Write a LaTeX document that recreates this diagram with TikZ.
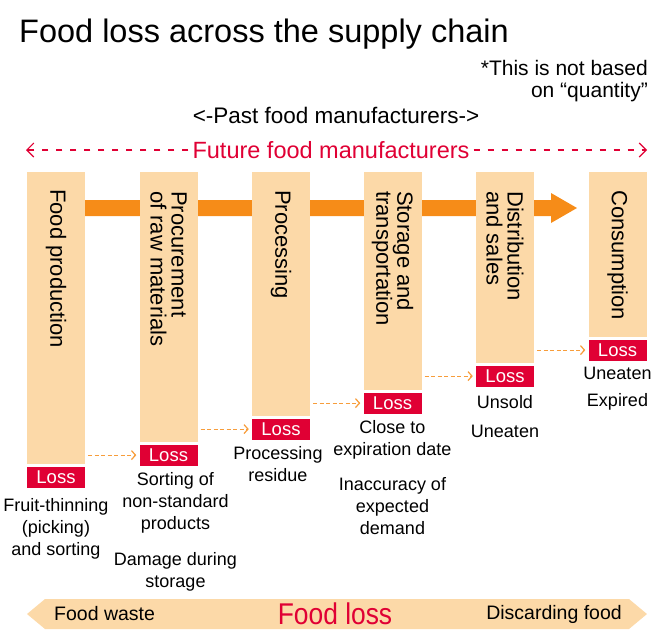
\documentclass[tikz,border=0pt]{standalone}
\usepackage{fontspec}
\setmainfont{Liberation Sans}
\newfontfamily\condfont[FakeStretch=0.88]{Liberation Sans}
\usetikzlibrary{arrows.meta,positioning}

\definecolor{durazno}{RGB}{252,217,168}
\definecolor{naranja}{RGB}{246,140,24}
\definecolor{rojo}{RGB}{224,0,52}

\tikzset{
  etapa/.style={fill=durazno, minimum width=58pt, inner sep=0pt, anchor=north},
  perdida/.style={fill=rojo, text=white, minimum width=58pt, minimum height=21pt,
    inner sep=0pt, anchor=north, font=\fontsize{18.5}{18}\selectfont},
  nombre/.style={rotate=-90, anchor=west, align=left, inner sep=0pt,
    font=\fontsize{22}{21}\selectfont},
  causa/.style={anchor=north, align=center, inner sep=0pt,
    font=\fontsize{18}{22}\selectfont},
  flecha/.style={naranja!85, line width=1.2pt, dash pattern=on 4pt off 2.5pt,
    -{Straight Barb[length=4pt,width=9pt]}, shorten <=3pt, shorten >=3pt},
}

\begin{document}
\begin{tikzpicture}[x=1pt, y=-1pt]
    \useasboundingbox (0,0) rectangle (670,643);

    % Titulo y nota
    \node[anchor=base west, inner sep=0pt, font=\fontsize{32.5}{32}\selectfont] (titulo) at (19,42)
      {Food loss across the supply chain};
    \node[anchor=north east, align=right, inner sep=0pt, font=\fontsize{21}{22}\selectfont] (nota) at (648,60)
      {*This is not based\\on “quantity”};

    % Fabricantes pasados y futuros
    \node[font=\fontsize{22.5}{24}\selectfont] (pasado) at (336,115) {<-Past food manufacturers->};
    \node[text=rojo, inner sep=4pt, font=\fontsize{23.5}{24}\selectfont] (futuro) at (331,150) {Future food manufacturers};
    \coordinate (fizq) at (26,150);
    \coordinate (fder) at (647,150);
    \draw[rojo, line width=1.1pt, dash pattern=on 6pt off 8pt, -{Straight Barb[length=7pt,width=14pt]}] (futuro.west) -- (fizq);
    \draw[rojo, line width=1.1pt, dash pattern=on 6pt off 8pt, -{Straight Barb[length=7pt,width=14pt]}] (futuro.east) -- (fder);

    % Flecha naranja de la cadena
    \fill[naranja] (85,200) -- (551,200) -- (551,193) -- (577,208) -- (551,223) -- (551,216) -- (85,216) -- cycle;

    % Etapas
    \node[etapa, minimum height=292pt] (e1) at (56,172) {};
    \node[etapa, minimum height=270pt] (e2) at (168.5,172) {};
    \node[etapa, minimum height=244pt] (e3) at (281,172) {};
    \node[etapa, minimum height=218pt] (e4) at (392.5,172) {};
    \node[etapa, minimum height=191pt] (e5) at (505,172) {};
    \node[etapa, minimum height=165pt] (e6) at (617.5,172) {};

    \node[nombre] at ([yshift=-17pt]e1.north) {Food production};
    \node[nombre] at ([yshift=-19pt]e2.north) {Procurement\\of raw materials};
    \node[nombre] at ([yshift=-18pt]e3.north) {Processing};
    \node[nombre] at ([yshift=-19pt]e4.north) {Storage and\\transportation};
    \node[nombre] at ([yshift=-19pt]e5.north) {Distribution\\and sales};
    \node[nombre] at ([yshift=-18pt]e6.north) {Consumption};

    % Perdidas
    \node[perdida] (l1) at ([yshift=-2pt]e1.south) {Loss};
    \node[perdida] (l2) at ([yshift=-2pt]e2.south) {Loss};
    \node[perdida] (l3) at ([yshift=-2pt]e3.south) {Loss};
    \node[perdida] (l4) at ([yshift=-2pt]e4.south) {Loss};
    \node[perdida] (l5) at ([yshift=-2pt]e5.south) {Loss};
    \node[perdida] (l6) at ([yshift=-2pt]e6.south) {Loss};

    \draw[flecha] (e1.east |- l2.west) -- (l2.west);
    \draw[flecha] (e2.east |- l3.west) -- (l3.west);
    \draw[flecha] (e3.east |- l4.west) -- (l4.west);
    \draw[flecha] (e4.east |- l5.west) -- (l5.west);
    \draw[flecha] (e5.east |- l6.west) -- (l6.west);

    % Causas
    \node[causa, below=10pt of l1] (c1) {Fruit-thinning\\(picking)\\and sorting};
    \node[causa, below=6pt of l2, xshift=7pt] (c2) {Sorting of\\non-standard\\products\\[14pt]Damage during\\storage};
    \node[causa, below=6pt of l3, xshift=-3pt] (c3) {Processing\\residue};
    \node[causa, below=6pt of l4] (c4) {Close to\\expiration date\\[13pt]Inaccuracy of\\expected\\demand};
    \node[causa, below=8pt of l5] (c5) {Unsold\\[7pt]Uneaten};
    \node[causa, below=6pt of l6] (c6) {Uneaten\\[5pt]Expired};

    % Barra inferior
    \fill[durazno] (27,614) -- (45,599) -- (629,599) -- (647,614) -- (629,629) -- (45,629) -- cycle;
    \node[anchor=west, inner sep=0pt, font=\fontsize{19.5}{20}\selectfont] (desperdicio) at (54,614) {Food waste};
    \node[text=rojo, font=\condfont\fontsize{30}{30}\selectfont] (perdidatotal) at (335,614) {Food loss};
    \node[anchor=east, inner sep=0pt, font=\fontsize{19.5}{20}\selectfont] (descarte) at (622,614) {Discarding food};
  \end{tikzpicture}
\end{document}
